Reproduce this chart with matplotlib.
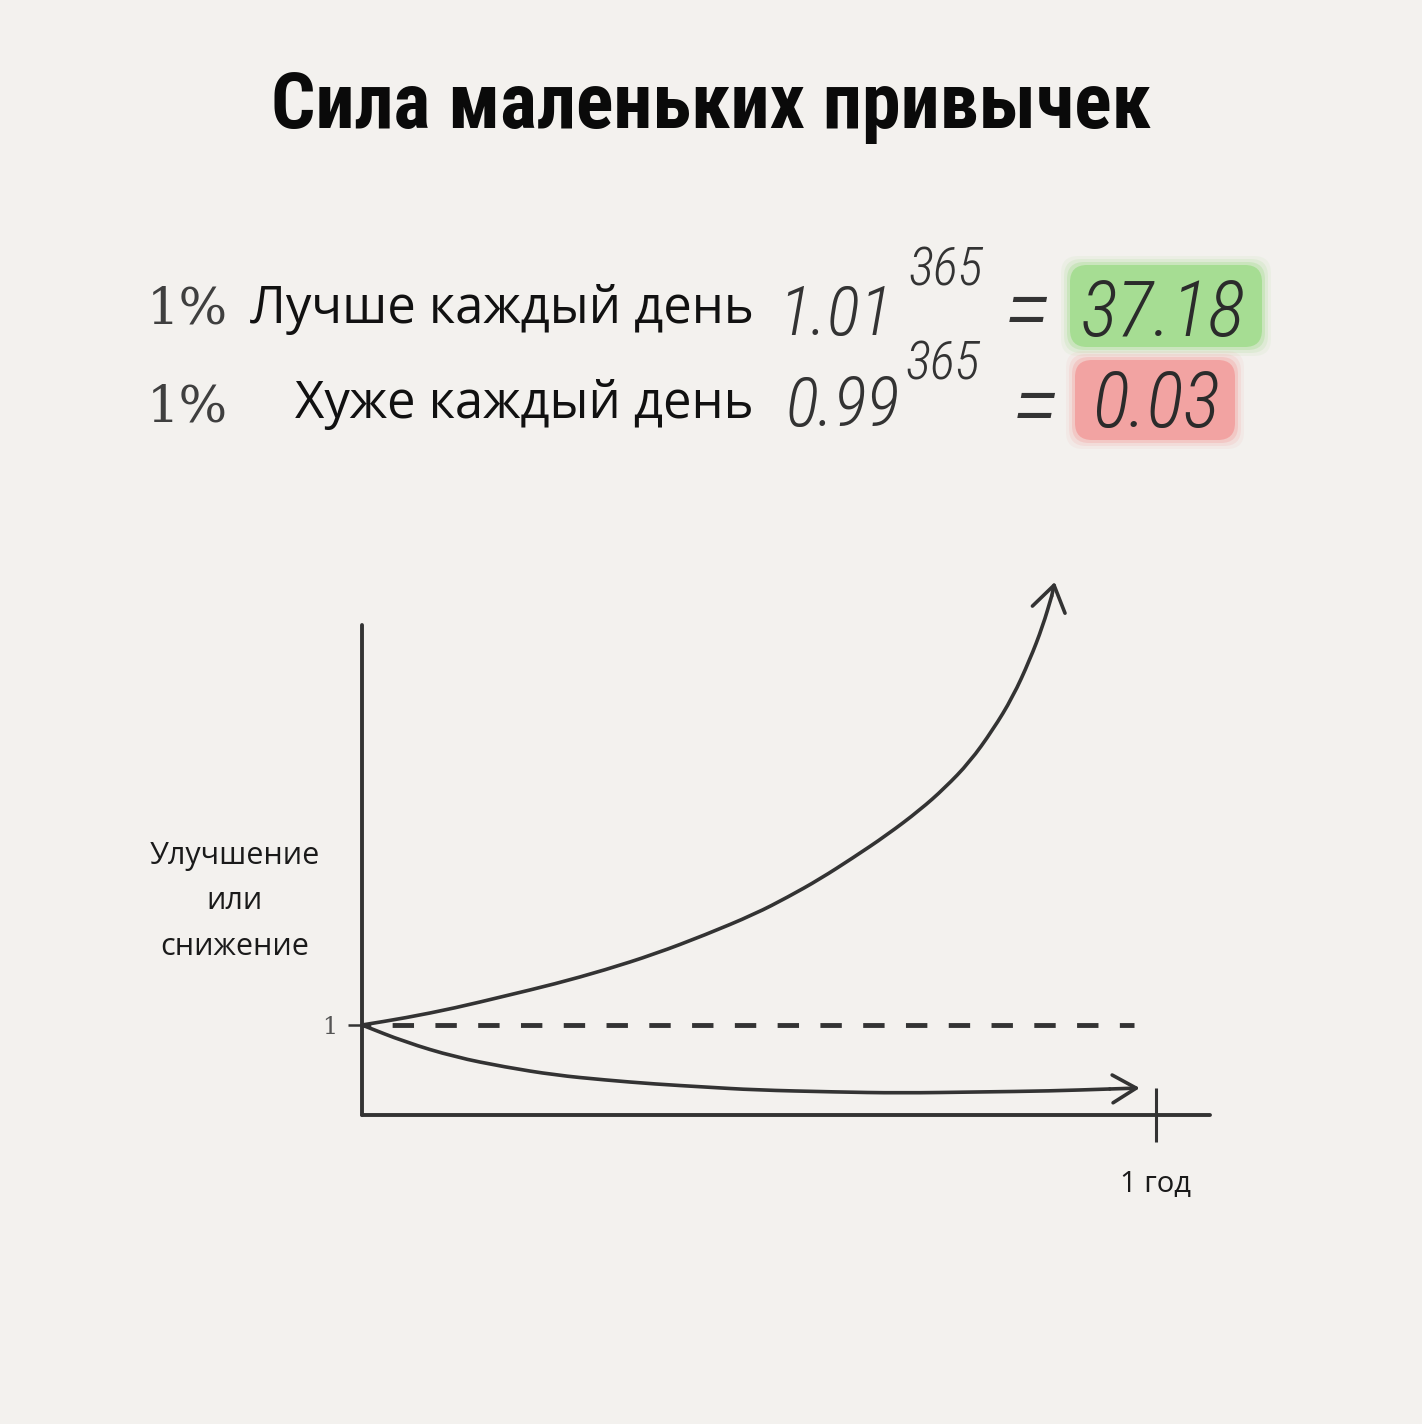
import matplotlib
matplotlib.use("Agg")
import matplotlib.pyplot as plt
from matplotlib import font_manager
from matplotlib.patches import FancyBboxPatch, PathPatch
from matplotlib.path import Path

# values (days of the year, relative level)
days_up = [0, 19.8, 42.8, 65.7, 88.7, 111.7, 134.7, 157.7, 180.7, 195.9, 210.6, 225.7, 241.4,
           256.6, 268.0, 279.5, 290.1, 299.3, 307.1, 313.1, 317.2]
vals_up = [1.000, 1.078, 1.189, 1.322, 1.456, 1.611, 1.789, 2.000, 2.233, 2.422, 2.622, 2.856, 3.111,
           3.389, 3.633, 3.922, 4.278, 4.644, 5.056, 5.433, 5.767]
tip_up = (318.6, 5.922)

days_down = [0, 19.8, 42.8, 65.7, 88.7, 111.7, 134.7, 157.7, 180.7, 217.5, 247.4, 284.1, 316.3, 343.9]
vals_down = [1.000, 0.811, 0.644, 0.533, 0.444, 0.389, 0.344, 0.311, 0.278, 0.256, 0.244, 0.256, 0.267, 0.289]
tip_down = (357.7, 0.300)

base_days = [0, 355]
base_vals = [1, 1]

x_ticks = [365]
x_tick_labels = ["1 год"]
y_ticks = [1]
y_tick_labels = ["1"]

title = "Сила маленьких привычек"
row_pct = ["1%", "1%"]
row_text = ["Лучше каждый день", "Хуже каждый день"]
row_base = ["1.01", "0.99"]
row_exp = ["365", "365"]
row_result = ["37.18", "0.03"]

W, H = 1422, 1424
BG = "#f3f1ee"
INK = "#333333"
GREEN = "#a6dd93"
RED = "#f2a3a2"

names = {f.name for f in font_manager.fontManager.ttflist}
sans = ["Open Sans", "Noto Sans", "DejaVu Sans"]
title_font = dict(family="DejaVu Sans", fontstretch="condensed", fontweight="bold")
for cand in ["Roboto Condensed", "Liberation Sans Narrow", "Open Sans Condensed"]:
    if cand in names:
        title_font = dict(family=cand, fontweight="bold")
        break
hand_font = dict(family=["Roboto", "DejaVu Sans"], fontweight="light", fontstyle="italic")
if "Roboto Condensed" in names:
    hand_font = dict(family=["Roboto Condensed", "DejaVu Sans"], fontweight="light", fontstyle="italic")

fig = plt.figure(figsize=(W / 100, H / 100), dpi=100, facecolor=BG)


def fx(px):
    return px / W


def fy(py):
    return 1 - py / H


def fit_width(t, target):
    r = fig.canvas.get_renderer()
    w = t.get_window_extent(r).width
    t.set_fontsize(t.get_fontsize() * target / w)
    return t.get_fontsize()


def smooth_path(xs, ys):
    # quadratic pieces with the read points as control points
    pts = list(zip(xs, ys))
    verts = [pts[0], ((pts[0][0] + pts[1][0]) / 2, (pts[0][1] + pts[1][1]) / 2)]
    codes = [Path.MOVETO, Path.LINETO]
    for i in range(1, len(pts) - 1):
        mid = ((pts[i][0] + pts[i + 1][0]) / 2, (pts[i][1] + pts[i + 1][1]) / 2)
        verts += [pts[i], mid]
        codes += [Path.CURVE3, Path.CURVE3]
    verts.append(pts[-1])
    codes.append(Path.LINETO)
    return Path(verts, codes)


# title
t = fig.text(fx(711), fy(128), title, ha="center", va="baseline", fontsize=60,
             color="#0a0a0a", **title_font)
fit_width(t, 880)

# the two formula rows
baselines = [323, 418]
pct_base = [324, 422]
body_size = None
for i in range(2):
    p = fig.text(fx(147), fy(pct_base[i]), row_pct[i], ha="left", va="baseline",
                 fontsize=30, family=["DejaVu Serif"], color="#3f3f3f")
    fit_width(p, 81)
    b = fig.text(fx(754), fy(baselines[i]), row_text[i], ha="right", va="baseline",
                 fontsize=body_size or 30, family=sans, color="#111111")
    if body_size is None:
        body_size = fit_width(b, 503)

boxes = [(1070, 265, 1262, 347, GREEN), (1075, 360, 1235, 440, RED)]
for x0, y0, x1, y1, c in boxes:
    for grow, a in [(9, 0.10), (6, 0.18), (3, 0.35), (0, 1.0)]:
        fig.patches.append(FancyBboxPatch(
            (fx(x0 - grow), fy(y1 + grow)), fx(x1 - x0 + 2 * grow), (y1 - y0 + 2 * grow) / H,
            boxstyle="round,pad=0,rounding_size=0.012", transform=fig.transFigure,
            fc=c, ec="none", alpha=a, zorder=0))

hand_base = [335, 426]
base_right = [893, 900]
exp_left = [909, 906]
exp_base = [285, 380]
eq_x = [1027, 1035]
eq_base = [342, 438]
res_x = [1163, 1156]
for i in range(2):
    fig.text(fx(base_right[i]), fy(hand_base[i]), row_base[i], ha="right", va="baseline",
             fontsize=50, color=INK, **hand_font)
    fig.text(fx(exp_left[i]), fy(exp_base[i]), row_exp[i], ha="left", va="baseline",
             fontsize=38, color=INK, **hand_font)
    fig.text(fx(eq_x[i]), fy(eq_base[i]), "=", ha="center", va="baseline",
             fontsize=72, color=INK, **hand_font)
    fig.text(fx(res_x[i]), fy(hand_base[i] + 1), row_result[i], ha="center", va="baseline",
             fontsize=56, color="#2b2b2b", **hand_font)

# chart
ax = fig.add_axes([fx(362), fy(1115), (1210 - 362) / W, (1115 - 625) / H])
ax.set_facecolor("none")
ax.set_xlim(0, 390)
ax.set_ylim(0, 490 / 90)
for s in ["top", "right"]:
    ax.spines[s].set_visible(False)
for s in ["left", "bottom"]:
    ax.spines[s].set_linewidth(2.8)
    ax.spines[s].set_color(INK)
    ax.spines[s].set_capstyle("round")

for xs, ys in [(days_up, vals_up), (days_down, vals_down)]:
    ax.add_patch(PathPatch(smooth_path(xs, ys), fc="none", ec=INK, lw=2.6,
                           capstyle="round", joinstyle="round", clip_on=False))
ax.annotate("", xy=tip_up, xytext=(days_up[-1], vals_up[-1]), annotation_clip=False,
            arrowprops=dict(arrowstyle="->,head_length=0.9,head_width=0.6", mutation_scale=20,
                            color=INK, lw=2.6, shrinkA=0, shrinkB=0, capstyle="round"))
ax.annotate("", xy=tip_down, xytext=(days_down[-1], vals_down[-1]), annotation_clip=False,
            arrowprops=dict(arrowstyle="->,head_length=0.85,head_width=0.5", mutation_scale=20,
                            color=INK, lw=2.6, shrinkA=0, shrinkB=0, capstyle="round"))
ax.plot(base_days, base_vals, color=INK, lw=3.5, linestyle=(2.6, (4.4, 4.4)), clip_on=False)

ax.set_xticks(x_ticks)
ax.set_xticklabels(x_tick_labels, fontsize=21, family=sans, color="#1a1a1a")
ax.tick_params(axis="x", direction="inout", length=39, width=2.2, color=INK, pad=20)
ax.set_yticks(y_ticks)
ax.set_yticklabels(y_tick_labels, fontsize=17, family=["DejaVu Serif"], color="#555555")
ax.tick_params(axis="y", direction="out", length=10, width=1.8, color=INK, pad=8)

ax.set_ylabel("Улучшение\nили\nснижение", rotation=0, ha="center", va="center",
              fontsize=22, family=sans, color="#1a1a1a", linespacing=1.67)
ax.yaxis.set_label_coords(-0.150, 0.436)

fig.savefig("out.png", dpi=100, facecolor=BG)
